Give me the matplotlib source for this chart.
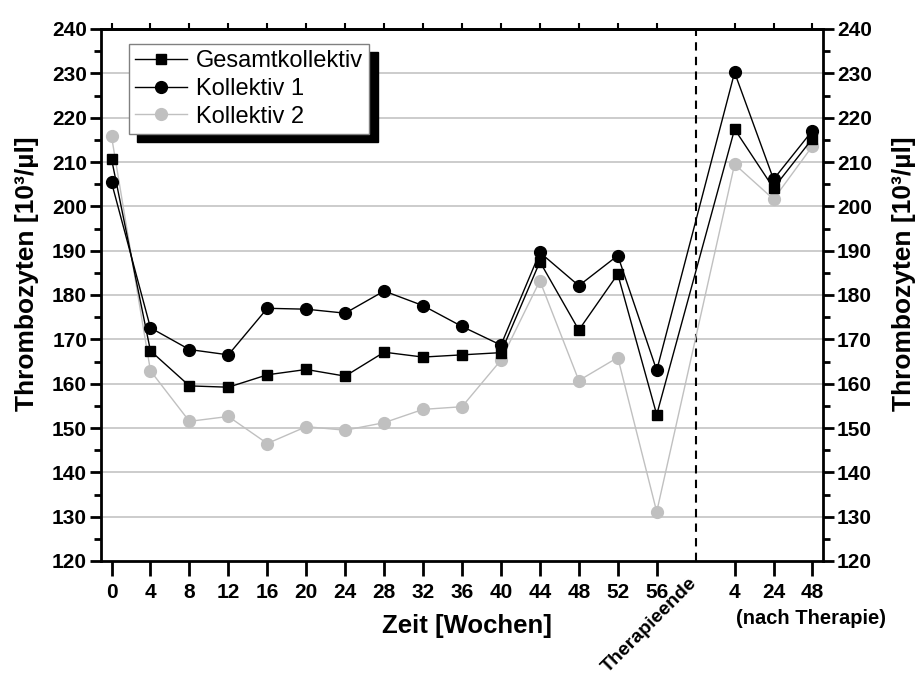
import numpy as np
import matplotlib
matplotlib.use("Agg")
import matplotlib.pyplot as plt
from matplotlib.ticker import MultipleLocator

plt.rcParams['font.family'] = ['Liberation Sans', 'DejaVu Sans']

# x positions: 0..14 = weeks of therapy, 15 = end of therapy (no data), 16..18 = after therapy
x_pos = [0, 1, 2, 3, 4, 5, 6, 7, 8, 9, 10, 11, 12, 13, 14, 16, 17, 18]
x_labels = ['0', '4', '8', '12', '16', '20', '24', '28', '32', '36', '40',
            '44', '48', '52', '56', '4', '24', '48']

gesamt = [210.7, 167.4, 159.5, 159.2, 162.0, 163.2, 161.7, 167.1, 166.0, 166.5,
          167.0, 187.5, 172.1, 184.7, 153.0, 217.4, 204.1, 215.3]
koll1 = [205.4, 172.6, 167.7, 166.5, 177.0, 176.8, 175.9, 180.9, 177.6, 172.9,
         168.7, 189.6, 182.1, 188.9, 163.0, 230.2, 206.1, 217.1]
koll2 = [215.8, 162.9, 151.5, 152.6, 146.5, 150.3, 149.5, 151.2, 154.2, 154.8,
         165.3, 183.2, 160.7, 165.9, 131.1, 209.5, 201.6, 213.6]

therapy_end = 15

fig = plt.figure(figsize=(9.18, 6.76), dpi=100)
ax = fig.add_axes([101/918, 1-561/676, (823-101)/918, (561-29)/676])

# gridlines
for v in range(130, 240, 10):
    ax.axhline(v, color='#c8c8c8', lw=1.3, zorder=0)

ax.axvline(therapy_end, color='black', lw=1.5, ls=(0, (4, 3)), zorder=1)

ax.plot(x_pos, koll2, color='#c0c0c0', lw=1, marker='o', ms=8.5,
        mec='#c0c0c0', mfc='#c0c0c0', label='Kollektiv 2', zorder=2)
ax.plot(x_pos, koll1, color='black', lw=1, marker='o', ms=8.5,
        label='Kollektiv 1', zorder=3)
ax.plot(x_pos, gesamt, color='black', lw=1, marker='s', ms=7.5,
        label='Gesamtkollektiv', zorder=4)

ax.set_xlim(-0.27, 18.27)
ax.set_ylim(120, 240)

ax.set_xticks(x_pos)
ax.set_xticklabels(x_labels, fontsize=15, fontweight='bold')
ax.yaxis.set_major_locator(MultipleLocator(10))
ax.yaxis.set_minor_locator(MultipleLocator(5))
ax.yaxis.set_ticks_position('both')
ax.tick_params(axis='y', which='major', direction='out', length=8, width=2,
               labelsize=15, labelright=True, pad=2)
ax.tick_params(axis='y', which='minor', direction='out', length=5, width=2)
ax.tick_params(axis='x', which='major', direction='out', length=11, width=2, pad=5)
for lab in ax.get_yticklabels():
    lab.set_fontweight('bold')

secx = ax.secondary_xaxis('top')
secx.set_xticks(x_pos)
secx.tick_params(axis='x', direction='out', length=4, width=1.5, labeltop=False)
secx.spines['top'].set_linewidth(2)

for sp in ax.spines.values():
    sp.set_linewidth(2)

fig.text(467/918, 1-626/676, 'Zeit [Wochen]', fontsize=18.5, fontweight='bold',
         ha='center', va='center')
fig.text(27/918, 1-274/676, 'Thrombozyten [10³/µl]', fontsize=19, fontweight='bold',
         rotation=90, ha='center', va='center')
fig.text(904/918, 1-274/676, 'Thrombozyten [10³/µl]', fontsize=19, fontweight='bold',
         rotation=90, ha='center', va='center')
fig.text(811/918, 1-618/676, '(nach Therapie)', fontsize=14.5, fontweight='bold',
         ha='center', va='center')
ax.text(therapy_end + 0.12, -0.025, 'Therapieende', transform=ax.get_xaxis_transform(),
        fontsize=14, fontweight='bold', rotation=45, ha='right', va='top')

handles, labels = ax.get_legend_handles_labels()
order = [2, 1, 0]
leg = fig.legend([handles[i] for i in order], [labels[i] for i in order],
                 loc='upper left', bbox_to_anchor=(129/918, 1-44/676),
                 fontsize=17, frameon=True, fancybox=False, framealpha=1,
                 edgecolor='#808080', handlelength=2.2, handletextpad=0.4,
                 borderpad=0.25, labelspacing=0.25, borderaxespad=0,
                 shadow={'ox': 6, 'oy': -6, 'facecolor': 'black',
                         'edgecolor': 'black', 'alpha': 1})
leg.get_frame().set_linewidth(1)

fig.savefig('out.png', dpi=100)
